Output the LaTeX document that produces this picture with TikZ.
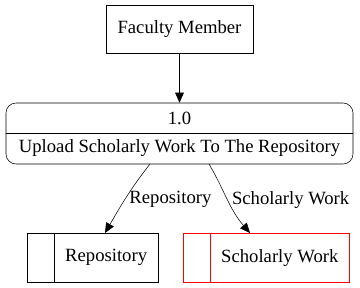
\documentclass[tikz,border=0pt]{standalone}
\usepackage{fontspec}
\setmainfont{Liberation Serif}
\usetikzlibrary{arrows.meta}
\tikzset{>={Triangle[length=7.5pt,width=6.5pt]}}
\tikzset{
  entity/.style={draw, minimum width=110.25pt, minimum height=36pt},
  process/.style={draw, rounded corners=7.5pt, minimum width=260.25pt, minimum height=45.75pt},
  datastore/.style={draw, anchor=north west, inner xsep=8.2pt, minimum height=36.75pt},
  flowlabel/.style={inner sep=1pt},
}
% left cell of a data store
\newcommand{\storecell}{\hspace*{20.25pt}}

\begin{document}
\begin{tikzpicture}[x=0.75pt, y=-0.75pt, font=\rmfamily\fontsize{14pt}{16pt}\selectfont]
    \useasboundingbox (0,0) rectangle (360,288);
    \node[entity] (faculty) at (179.5,29) {Faculty Member};
    \node[process] (upload) at (179.5,133.5) {};
    \draw (upload.west) -- (upload.east);
    \node (upload id) at (179.5,118) {1.0};
    \node (upload name) at (179.5,148.5) {Upload Scholarly Work To The Repository};
    \node[datastore] (repo) at (27,233) {\storecell Repository};
    \draw ([xshift=20.25pt]repo.north west) -- ([xshift=20.25pt]repo.south west);
    \node[datastore, draw=red] (work) at (183,233) {\storecell Scholarly Work};
    \draw[red] ([xshift=20.25pt]work.north west) -- ([xshift=20.25pt]work.south west);
    % flows
    \draw[->] (faculty) -- (upload);
    \draw[->] (upload.-134) to[out=-128, in=60]
        node[flowlabel, pos=0.52, anchor=west, xshift=2pt] (lbl repo) {Repository}
        ([xshift=58.5pt]repo.north west);
    \draw[->] (upload.-46) to[out=-60, in=131]
        node[flowlabel, pos=0.5, anchor=west, xshift=2pt] (lbl work) {Scholarly Work}
        ([xshift=50.25pt]work.north west);
\end{tikzpicture}
\end{document}
